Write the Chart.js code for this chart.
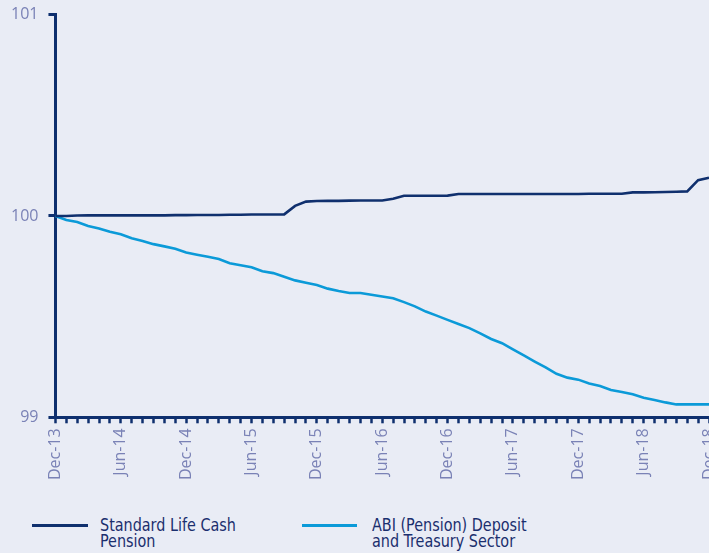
<!DOCTYPE html>
<html>
<head>
<meta charset="utf-8">
<script src="https://cdn.jsdelivr.net/npm/chart.js@4"></script>
<style>
  html, body { margin:0; padding:0; background:#e9ecf5; width:709px; height:553px; overflow:hidden; }
  #wrap { position:absolute; left:0; top:-5px; width:740px; height:490px; }
  #legend { position:absolute; left:0; top:513px; width:709px; height:40px; font-family:"Liberation Sans Narrow","DejaVu Sans Condensed",sans-serif; font-size:17px; color:#1b2f6e; line-height:16px; }
  .swatch { position:absolute; top:11px; height:3px; }
  .txt { position:absolute; top:4px; white-space:nowrap; transform:scaleX(0.94); transform-origin:0 0; }
</style>
</head>
<body>
<div id="wrap"><canvas id="c" width="740" height="490"></canvas></div>
<div id="legend"></div>
<script>
const months = ["Dec-13","Jan-14","Feb-14","Mar-14","Apr-14","May-14","Jun-14","Jul-14","Aug-14","Sep-14","Oct-14","Nov-14",
"Dec-14","Jan-15","Feb-15","Mar-15","Apr-15","May-15","Jun-15","Jul-15","Aug-15","Sep-15","Oct-15","Nov-15",
"Dec-15","Jan-16","Feb-16","Mar-16","Apr-16","May-16","Jun-16","Jul-16","Aug-16","Sep-16","Oct-16","Nov-16",
"Dec-16","Jan-17","Feb-17","Mar-17","Apr-17","May-17","Jun-17","Jul-17","Aug-17","Sep-17","Oct-17","Nov-17",
"Dec-17","Jan-18","Feb-18","Mar-18","Apr-18","May-18","Jun-18","Jul-18","Aug-18","Sep-18","Oct-18","Nov-18","Dec-18"];

const seriesNames = [["Standard Life Cash","Pension"],["ABI (Pension) Deposit","and Treasury Sector"]];

const standardLife = [100.000,100.000,100.002,100.003,100.003,100.003,100.003,100.003,100.003,100.003,100.003,100.004,
100.004,100.005,100.005,100.005,100.006,100.006,100.007,100.007,100.007,100.008,100.050,100.071,
100.074,100.075,100.075,100.076,100.077,100.077,100.077,100.085,100.100,100.100,100.100,100.100,
100.101,100.109,100.109,100.109,100.109,100.109,100.109,100.109,100.109,100.109,100.109,100.109,
100.109,100.110,100.110,100.110,100.110,100.117,100.117,100.118,100.119,100.120,100.122,100.178,100.190];

const abiDeposit = [100.000,99.980,99.970,99.950,99.938,99.921,99.909,99.889,99.876,99.860,99.849,99.837,
99.818,99.807,99.797,99.786,99.765,99.755,99.745,99.725,99.716,99.698,99.680,99.668,
99.657,99.639,99.627,99.617,99.617,99.609,99.600,99.591,99.572,99.551,99.525,99.505,
99.484,99.463,99.443,99.417,99.389,99.368,99.337,99.307,99.277,99.248,99.216,99.197,
99.187,99.168,99.155,99.136,99.126,99.114,99.097,99.086,99.074,99.064,99.064,99.064,99.064];

const yTicks = [99, 100, 101];
const colors = ["#10306e", "#0b9ad8"];
const navy = "#0e2f6e";
const tickColor = "#7a82b6";

new Chart(document.getElementById("c"), {
  type: "line",
  data: {
    labels: months,
    datasets: [
      { label: seriesNames[0].join(" "), data: standardLife, borderColor: colors[0], borderWidth: 2.6, pointRadius: 0, tension: 0, fill: false },
      { label: seriesNames[1].join(" "), data: abiDeposit, borderColor: colors[1], borderWidth: 2.6, pointRadius: 0, tension: 0, fill: false }
    ]
  },
  options: {
    responsive: false,
    animation: false,
    devicePixelRatio: 1,
    layout: { padding: { left: 1, top: 8, right: 31, bottom: 0 } },
    plugins: { legend: { display: false }, tooltip: { enabled: false } },
    scales: {
      x: {
        type: "category",
        offset: false,
        border: { color: navy, width: 3 },
        grid: { drawOnChartArea: false, drawTicks: true, tickLength: 6, tickWidth: 2.5, tickColor: navy, offset: false },
        ticks: {
          autoSkip: false, minRotation: 90, maxRotation: 90, padding: 5,
          color: tickColor, font: { family: "Open Sans", size: 16 },
          callback: (v, i) => (i % 6 === 0 ? months[i] : "")
        }
      },
      y: {
        min: yTicks[0], max: yTicks[yTicks.length - 1],
        afterBuildTicks: (s) => { s.ticks = yTicks.map(v => ({ value: v })); },
        border: { color: navy, width: 3 },
        grid: { drawOnChartArea: false, drawTicks: true, tickLength: 7, tickWidth: 3, tickColor: navy },
        ticks: { padding: 10, color: tickColor, font: { family: "Open Sans", size: 16 } }
      }
    }
  }
});

// HTML legend
const legend = document.getElementById("legend");
const pos = [{ sw: 32, sww: 56, tx: 100 }, { sw: 302, sww: 55, tx: 372 }];
seriesNames.forEach((lines, i) => {
  const s = document.createElement("div");
  s.className = "swatch";
  s.style.left = pos[i].sw + "px"; s.style.width = pos[i].sww + "px"; s.style.background = colors[i];
  legend.appendChild(s);
  const t = document.createElement("div");
  t.className = "txt";
  t.style.left = pos[i].tx + "px";
  t.innerHTML = lines.join("<br>");
  legend.appendChild(t);
});
</script>
</body>
</html>
